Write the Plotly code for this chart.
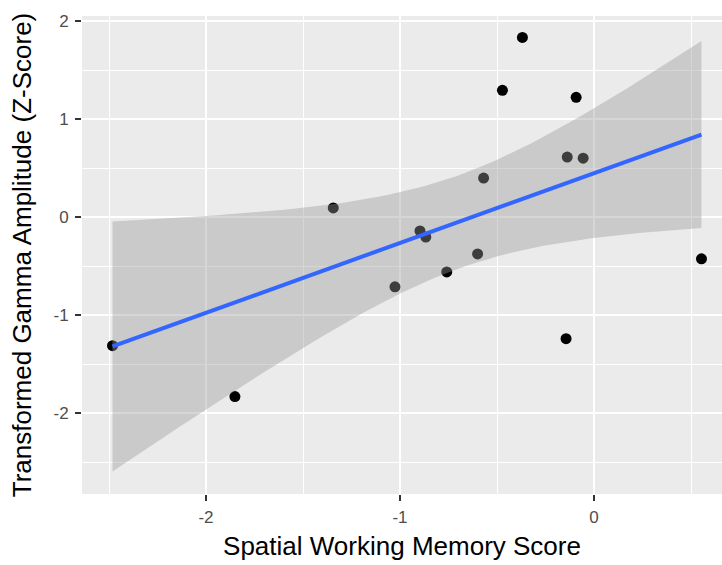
import numpy as np
import plotly.graph_objects as go

# Spatial working memory score vs transformed gamma amplitude (z-score)
swm_score = [-2.482, -1.851, -1.344, -1.026, -0.897, -0.867, -0.759, -0.600,
             -0.569, -0.472, -0.369, -0.144, -0.138, -0.092, -0.056, 0.554]
gamma_z = [-1.313, -1.832, 0.092, -0.712, -0.142, -0.204, -0.560, -0.377,
           0.397, 1.293, 1.832, -1.242, 0.611, 1.221, 0.600, -0.427]

x_ticks = [-2, -1, 0]
y_ticks = [-2, -1, 0, 1, 2]

# Linear fit with 95% confidence band (as in geom_smooth(method = "lm"))
x = np.array(swm_score)
y = np.array(gamma_z)
n = len(x)
slope, intercept = np.polyfit(x, y, 1)
resid = y - (intercept + slope * x)
s = np.sqrt(np.sum(resid ** 2) / (n - 2))
sxx = np.sum((x - x.mean()) ** 2)
t_crit = 2.144787  # t quantile 0.975, df = 14

xg = np.linspace(x.min(), x.max(), 80)
fit = intercept + slope * xg
se = s * np.sqrt(1.0 / n + (xg - x.mean()) ** 2 / sxx)
upper = fit + t_crit * se
lower = fit - t_crit * se

fig = go.Figure()

fig.add_trace(go.Scatter(
    x=swm_score, y=gamma_z, mode="markers",
    marker=dict(color="black", size=11, line=dict(width=0)),
    showlegend=False, hoverinfo="skip"))

fig.add_trace(go.Scatter(
    x=np.concatenate([xg, xg[::-1]]),
    y=np.concatenate([upper, lower[::-1]]),
    mode="lines", fill="toself",
    fillcolor="rgba(153,153,153,0.4)",
    line=dict(width=0, color="rgba(0,0,0,0)"),
    showlegend=False, hoverinfo="skip"))

fig.add_trace(go.Scatter(
    x=xg, y=fit, mode="lines",
    line=dict(color="#3366FF", width=4),
    showlegend=False, hoverinfo="skip"))

x0_px, x_unit = 594.0, 194.0
y0_px, y_unit = 217.0, 98.0
left, right, top, bottom = 82, 722, 16, 494

fig.update_layout(
    width=722, height=565,
    margin=dict(l=left, r=722 - right, t=top, b=565 - bottom, pad=0),
    paper_bgcolor="white",
    plot_bgcolor="#EBEBEB",
    font=dict(family="Liberation Sans, Arial, sans-serif", color="black"),
    xaxis=dict(
        range=[(left - x0_px) / x_unit, (right - x0_px) / x_unit],
        tickvals=x_ticks, ticktext=[str(v) for v in x_ticks],
        ticks="outside", ticklen=6, tickwidth=1.5, tickcolor="#333333",
        tickfont=dict(size=17, color="#4D4D4D"), ticklabelstandoff=2,
        showgrid=True, gridcolor="white", gridwidth=2.4,
        minor=dict(dtick=0.5, tick0=0, showgrid=True, gridcolor="white",
                   gridwidth=1.2, ticks=""),
        zeroline=False, showline=False,
        title=dict(text="Spatial Working Memory Score",
                   font=dict(size=26, color="black"), standoff=10),
    ),
    yaxis=dict(
        range=[-(bottom - y0_px) / y_unit, (y0_px - top) / y_unit],
        tickvals=y_ticks, ticktext=[str(v) for v in y_ticks],
        ticks="outside", ticklen=6, tickwidth=1.5, tickcolor="#333333",
        tickfont=dict(size=17, color="#4D4D4D"), ticklabelstandoff=3,
        showgrid=True, gridcolor="white", gridwidth=2.4,
        minor=dict(dtick=0.5, tick0=0, showgrid=True, gridcolor="white",
                   gridwidth=1.2, ticks=""),
        zeroline=False, showline=False,
        title=dict(text="Transformed Gamma Amplitude (Z-Score)",
                   font=dict(size=26, color="black"), standoff=14),
    ),
)

fig.write_html("out.html")
